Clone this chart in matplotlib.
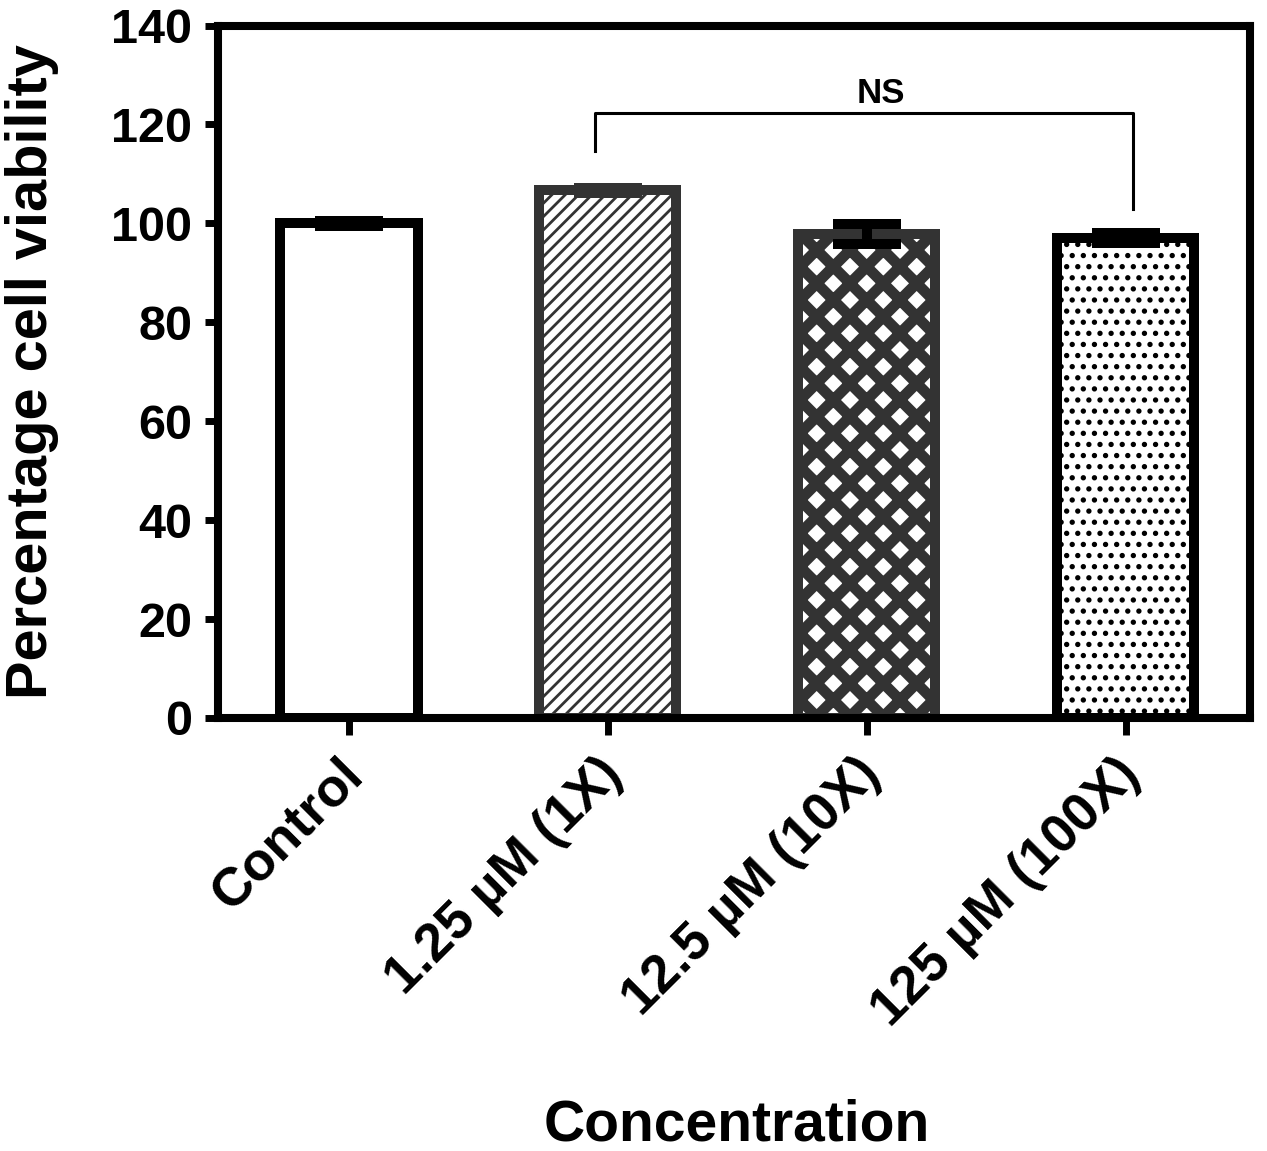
import matplotlib
matplotlib.use("Agg")
import matplotlib.pyplot as plt

plt.rcParams['font.family'] = ['Liberation Sans', 'DejaVu Sans']
plt.rcParams['font.weight'] = 'bold'

# data
groups = ["Control", "1.25 µM (1X)", "12.5 µM (10X)", "125 µM (100X)"]
viability = [100.0, 106.7, 97.8, 97.0]
sem = [0.5, 0.5, 2.0, 1.0]

# bracket for the NS comparison (1X vs 100X)
bracket_x = [0.95, 3.027]
bracket_top = 122.4
bracket_left_end = 114.7
bracket_right_end = 103.0
ns_label = "NS"
ns_x = 2.055

edge_colors = ["black", "#333333", "#333333", "black"]
err_colors = ["black", "#333333", "black", "black"]
hatches = [None, "/////", "xx", "..."]
hatch_widths = [1.0, 1.0, 3.9, 1.1]

fig = plt.figure(figsize=(6.335, 5.755), dpi=200)
ax = fig.add_axes([0.172, 0.3762, 0.8146, 0.6016])

for i in range(len(groups)):
    bar = ax.bar(i, viability[i], width=0.53, color="white",
                 edgecolor=edge_colors[i], linewidth=3.6,
                 hatch=hatches[i], zorder=2)[0]
    if hasattr(bar, "set_hatch_linewidth"):
        bar.set_hatch_linewidth(hatch_widths[i])
    bar.set_joinstyle("miter")
    ax.errorbar(i, viability[i], yerr=sem[i], fmt="none", ecolor=err_colors[i],
                elinewidth=3.6, capsize=12.2, capthick=3.6, zorder=3)

ax.plot([bracket_x[0], bracket_x[0], bracket_x[1], bracket_x[1]],
        [bracket_left_end, bracket_top, bracket_top, bracket_right_end],
        color="black", linewidth=1.1, zorder=3)
ax.text(ns_x, bracket_top + 0.6, ns_label, ha="center", va="bottom",
        fontsize=12.5, fontweight="bold")

ax.set_xlim(-0.506, 3.48)
ax.set_ylim(0, 140)
ax.set_yticks(range(0, 141, 20))
ax.set_xticks(range(len(groups)))
ax.set_xticklabels([])
# rotated category labels, placed just below each tick
for i, name in enumerate(groups):
    ax.annotate(name, xy=(i, 0), xycoords=("data", "axes fraction"),
                xytext=(2.2, -17.5), textcoords="offset points",
                rotation=45, ha="right", va="center", rotation_mode="anchor",
                fontsize=19.3, fontweight="bold", annotation_clip=False)

for s in ax.spines.values():
    s.set_linewidth(2.9)
    s.set_zorder(4)
ax.tick_params(axis="y", length=4.7, width=2.5, labelsize=17.5, pad=4.5)
ax.tick_params(axis="x", length=6, width=2.5, pad=8)

ax.set_ylabel("Percentage cell viability", fontsize=20.8, fontweight="bold")
ax.set_xlabel("Concentration", fontsize=20.5, fontweight="bold")
ax.yaxis.set_label_coords(-0.154, 0.5)
ax.xaxis.set_label_coords(0.503, -0.550)

fig.savefig("out.png", dpi=200)
